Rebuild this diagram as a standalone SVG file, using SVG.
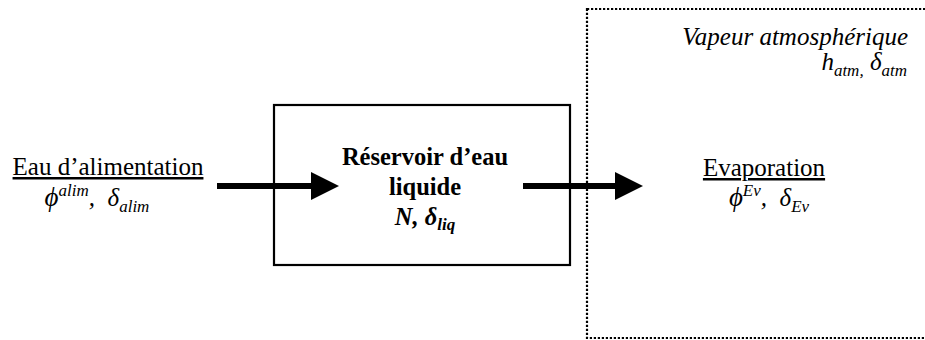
<svg xmlns="http://www.w3.org/2000/svg" width="925" height="340" viewBox="0 0 925 340" font-family="'Liberation Serif', 'Times New Roman', serif">
  <style>
    text { font-family: "Liberation Serif", "Times New Roman", serif; fill: #000; }
    .lbl { font-size: 25px; }
    .sym { font-size: 25px; font-style: italic; }
    .phi { font-size: 27px; }
    .sub { font-size: 17px; }
    .bold { font-size: 24.5px; font-weight: bold; }
    .ital { font-size: 25px; font-style: italic; }
    .box { fill: none; stroke: #000; stroke-width: 2.2; }
    .zone { fill: none; stroke: #000; stroke-width: 2.2; stroke-dasharray: 2.2 1.8; }
    .flow { stroke: #000; stroke-width: 6; fill: none; }
  </style>
  <defs>
    <marker id="head" markerUnits="userSpaceOnUse" markerWidth="28" markerHeight="28" refX="0" refY="14" orient="auto">
      <path d="M0,0 L28,14 L0,28 Z" fill="#000"/>
    </marker>
  </defs>

  <!-- atmosphere zone (dotted, open on the right edge) -->
  <g id="atmosphere">
    <rect class="zone" x="587" y="9" width="360" height="329"/>
    <text class="ital" x="908" y="45" text-anchor="end">Vapeur atmosphérique</text>
    <text class="ital" x="907" y="70" text-anchor="end">h<tspan class="sub" dy="6">atm,</tspan><tspan dy="-6">&#160;δ</tspan><tspan class="sub" dy="6">atm</tspan></text>
  </g>

  <!-- liquid water tank -->
  <g id="reservoir">
    <rect class="box" x="274" y="105" width="296" height="160"/>
    <text class="bold" x="425" y="165" text-anchor="middle">Réservoir d’eau</text>
    <text class="bold" x="425" y="195" text-anchor="middle">liquide</text>
    <text class="bold" x="425" y="225" text-anchor="middle" font-style="italic">N, δ<tspan class="sub" dy="5">liq</tspan></text>
  </g>

  <!-- feed water -->
  <g id="alimentation">
    <text class="lbl" x="108" y="175" text-anchor="middle" text-decoration="underline">Eau d’alimentation</text>
    <text class="sym" x="97" y="206" text-anchor="middle"><tspan class="phi">ϕ</tspan><tspan class="sub" dy="-10">alim</tspan><tspan dy="10">,&#160;&#160;δ</tspan><tspan class="sub" dy="6">alim</tspan></text>
  </g>

  <!-- evaporation -->
  <g id="evaporation">
    <text class="lbl" x="764" y="176" text-anchor="middle" text-decoration="underline">Evaporation</text>
    <text class="sym" x="769" y="206" text-anchor="middle"><tspan class="phi">ϕ</tspan><tspan class="sub" dy="-10">Ev</tspan><tspan dy="10">,&#160;&#160;δ</tspan><tspan class="sub" dy="6">Ev</tspan></text>
  </g>

  <!-- flows -->
  <g id="connectors">
    <line class="flow" x1="217" y1="186" x2="311" y2="186" marker-end="url(#head)"/>
    <line class="flow" x1="523" y1="186" x2="615" y2="186" marker-end="url(#head)"/>
  </g>
</svg>
